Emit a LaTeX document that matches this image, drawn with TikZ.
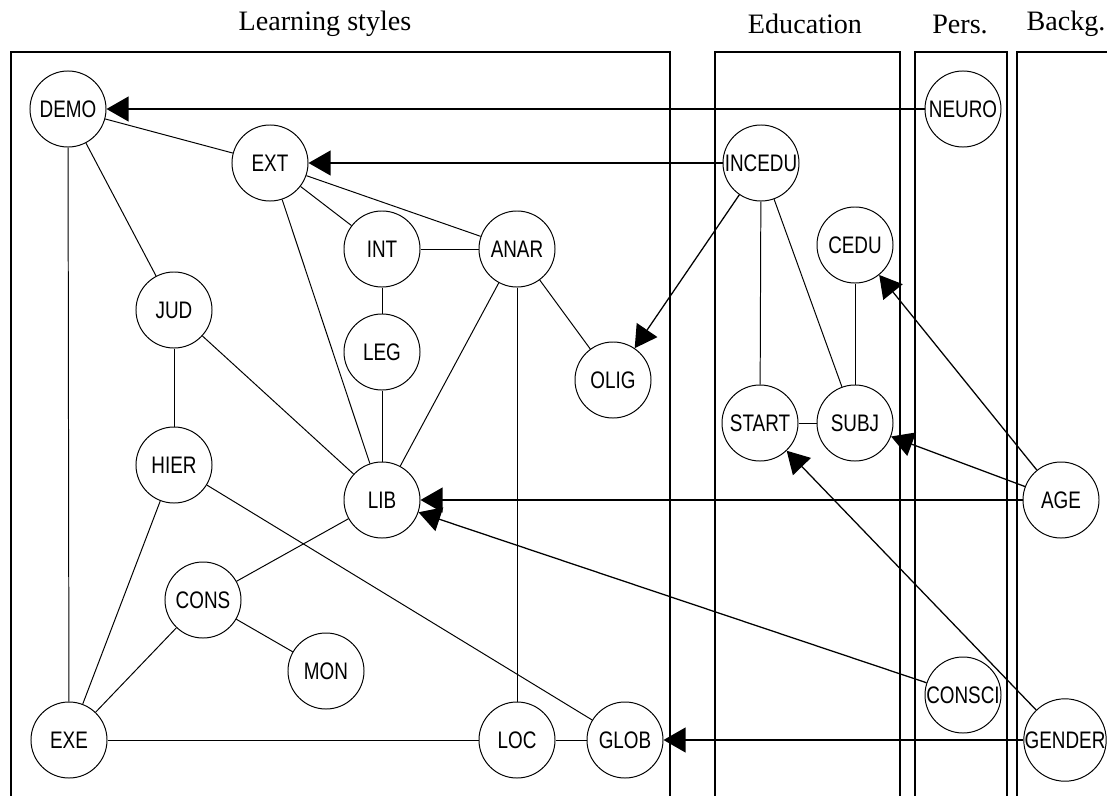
\documentclass[tikz,border=0pt]{standalone}
\usepackage{fontspec}
\setmainfont{Liberation Serif}
\newfontfamily\varfont[FakeStretch=0.79]{Liberation Sans}
\usetikzlibrary{arrows.meta}
\tikzset{
  var/.style={circle,draw,line width=0.7pt,fill=white,inner sep=0pt,minimum size=1.9cm,font=\varfont\fontsize{17}{18}\selectfont},
  link/.style={line width=0.7pt},
  cause/.style={-{Triangle[length=0.55cm,width=0.62cm]},line width=0.9pt},
  panel/.style={line width=1.1pt},
  heading/.style={font=\fontsize{20}{22}\selectfont}
}

\begin{document}
\begin{tikzpicture}[x=0.025cm,y=-0.025cm]
      \useasboundingbox (0,0) rectangle (1107,796);
      \clip (0,0) rectangle (1107,796);

      % panels
      \draw[panel] (11,810) |- (670,52) -- (670,810);
      \draw[panel] (715,810) |- (900,52) -- (900,810);
      \draw[panel] (915,810) |- (1007,52) -- (1007,810);
      \draw[panel] (1017,810) |- (1130,52);
      \node[heading] (hls) at (325,24) {Learning styles};
      \node[heading] (hedu) at (805,24) {Education};
      \node[heading] (hpers) at (960,24) {Pers.};
      \node[heading] (hback) at (1066,24) {Backg.};

      % learning styles
      \node[var] (DEMO) at (68,109) {DEMO};
      \node[var] (EXT) at (270,163) {EXT};
      \node[var] (INT) at (382,249) {INT};
      \node[var] (ANAR) at (517,249) {ANAR};
      \node[var] (JUD) at (174,310) {JUD};
      \node[var] (LEG) at (382,352) {LEG};
      \node[var] (OLIG) at (613,380) {OLIG};
      \node[var] (HIER) at (174,465) {HIER};
      \node[var] (LIB) at (382,500) {LIB};
      \node[var] (CONS) at (203,600) {CONS};
      \node[var] (MON) at (326,671) {MON};
      \node[var] (EXE) at (69,740) {EXE};
      \node[var] (LOC) at (517,740) {LOC};
      \node[var] (GLOB) at (625,740) {GLOB};

      % education
      \node[var] (INCEDU) at (761,163) {INCEDU};
      \node[var] (CEDU) at (855,245) {CEDU};
      \node[var] (START) at (760,423) {START};
      \node[var] (SUBJ) at (855,423) {SUBJ};

      % personality and background
      \node[var] (NEURO) at (963,109) {NEURO};
      \node[var] (CONSCI) at (963,695) {CONSCI};
      \node[var] (AGE) at (1061,500) {AGE};
      \node[var] (GENDER) at (1065,740) {GENDER};

      \foreach \a/\b in {DEMO/EXT,DEMO/JUD,DEMO/EXE,EXT/INT,EXT/ANAR,EXT/LIB,
        INT/ANAR,INT/LEG,LEG/LIB,ANAR/LIB,ANAR/OLIG,ANAR/LOC,JUD/HIER,JUD/LIB,
        HIER/EXE,HIER/GLOB,LIB/CONS,CONS/EXE,CONS/MON,EXE/LOC,LOC/GLOB,
        INCEDU/START,INCEDU/SUBJ,CEDU/SUBJ,START/SUBJ}
        \draw[link] (\a) -- (\b);

      \foreach \a/\b in {NEURO/DEMO,INCEDU/EXT,INCEDU/OLIG,AGE/CEDU,AGE/SUBJ,
        AGE/LIB,CONSCI/LIB,GENDER/START,GENDER/GLOB}
        \draw[cause] (\a) -- (\b);
    \end{tikzpicture}
\end{document}
